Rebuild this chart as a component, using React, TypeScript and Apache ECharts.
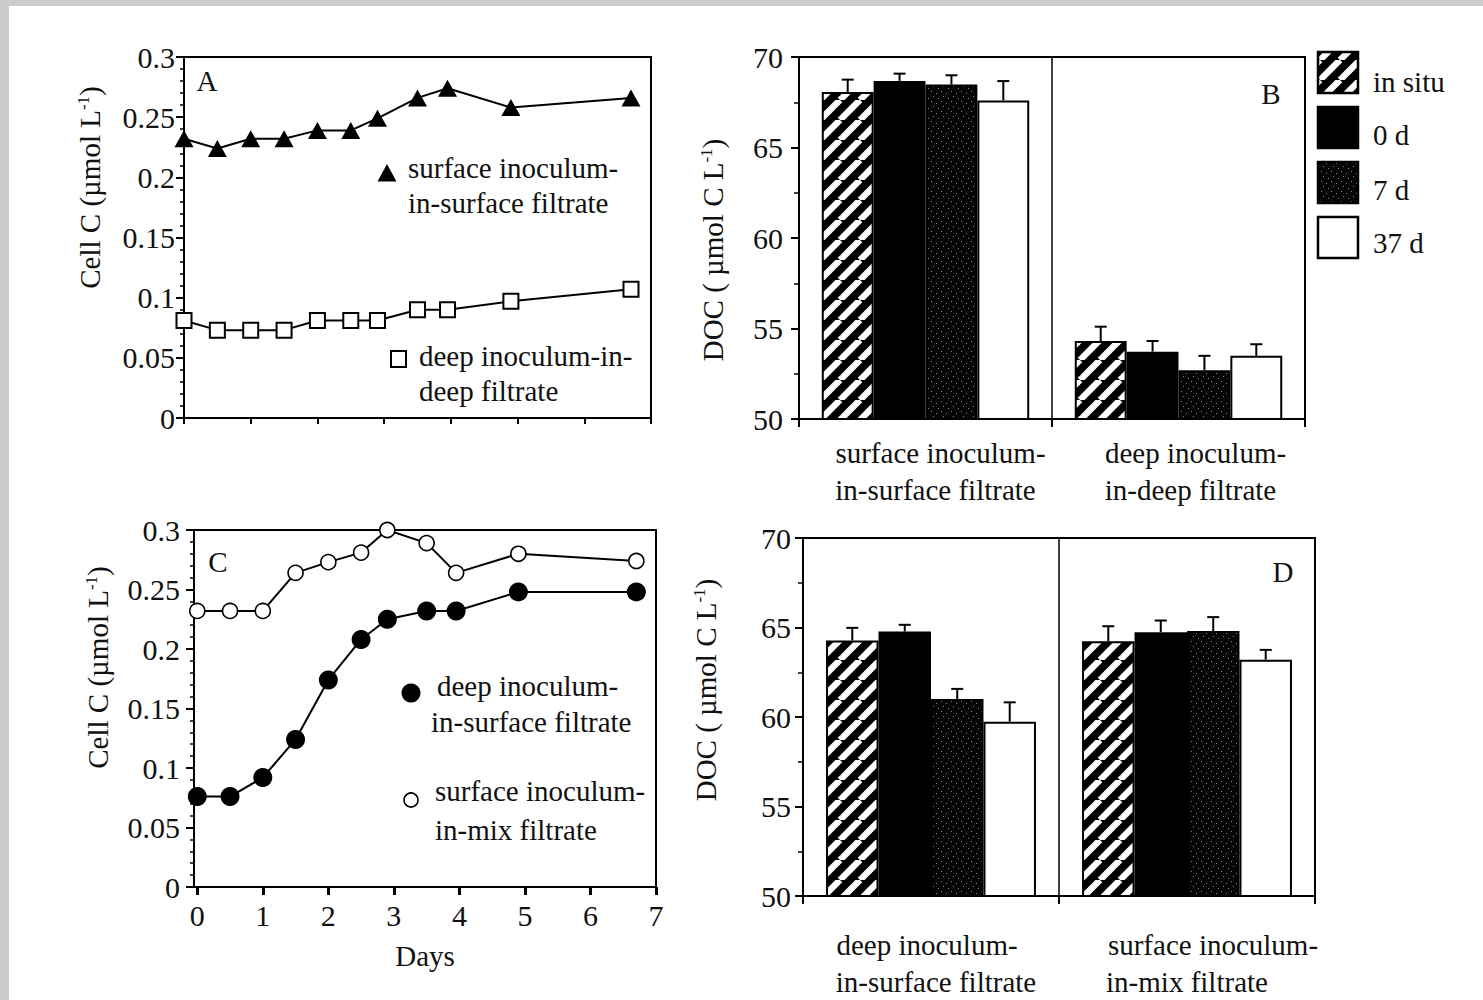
import React, { useEffect, useRef } from "react";
import * as echarts from "echarts";

// ---------- data ----------
const days = [0, 0.5, 1, 1.5, 2, 2.5, 2.9, 3.5, 3.95, 4.9, 6.7];
const dayTicks = [0, 1, 2, 3, 4, 5, 6, 7];

// Panel A
const aSurfaceInSurface = [0.232, 0.224, 0.232, 0.232, 0.239, 0.239, 0.249, 0.266, 0.274, 0.258, 0.266];
const aDeepInDeep = [0.081, 0.073, 0.073, 0.073, 0.081, 0.081, 0.081, 0.09, 0.09, 0.097, 0.107];
// Panel C
const cDeepInSurface = [0.076, 0.076, 0.092, 0.124, 0.174, 0.208, 0.225, 0.232, 0.232, 0.248, 0.248];
const cSurfaceInMix = [0.232, 0.232, 0.232, 0.264, 0.273, 0.281, 0.3, 0.289, 0.264, 0.28, 0.274];

// Panels B and D
const treatments = ["in situ", "0 d", "7 d", "37 d"];
const bCategories = ["surface inoculum-\nin-surface filtrate", "deep inoculum-\nin-deep filtrate"];
const bMeans = [
  [68.07, 54.31],
  [68.68, 53.72],
  [68.48, 52.7],
  [67.6, 53.49],
];
const bErrors = [
  [0.68, 0.79],
  [0.4, 0.59],
  [0.51, 0.79],
  [1.07, 0.64],
];
const dCategories = ["deep inoculum-\nin-surface filtrate", "surface inoculum-\nin-mix filtrate"];
const dMeans = [
  [64.27, 64.23],
  [64.78, 64.74],
  [61.0, 64.8],
  [59.74, 63.2],
];
const dErrors = [
  [0.71, 0.84],
  [0.37, 0.65],
  [0.57, 0.78],
  [1.08, 0.55],
];

// ---------- styling ----------
const FONT = '"Liberation Serif", "Times New Roman", Times, serif';
const INK = "#111";
const BAR_FRACTION = 0.205;

function makeHatch() {
  const T = 20;
  const c = document.createElement("canvas");
  c.width = T;
  c.height = T;
  const g = c.getContext("2d")!;
  g.fillStyle = "#000";
  g.fillRect(0, 0, T, T);
  g.strokeStyle = "#fff";
  g.lineWidth = 6.5;
  for (const o of [-T, 0, T]) {
    g.beginPath();
    g.moveTo(o, T);
    g.lineTo(o + T, 0);
    g.stroke();
  }
  return c;
}

function makeStipple() {
  const T = 10;
  const c = document.createElement("canvas");
  c.width = T;
  c.height = T;
  const g = c.getContext("2d")!;
  g.fillStyle = "#050505";
  g.fillRect(0, 0, T, T);
  g.fillStyle = "rgba(170,170,170,0.8)";
  const dots = [
    [1, 1],
    [6, 3],
    [3, 6],
    [8, 8],
  ];
  for (const [x, y] of dots) g.fillRect(x, y, 1, 1);
  return c;
}

const txt = { fontFamily: FONT, color: INK };

function cellAxis(gridIndex: number, margin: number, padLeft: number, nameGap: number) {
  return {
    type: "value",
    gridIndex,
    min: 0,
    max: 0.3,
    interval: 0.05,
    name: "Cell C (µmol L{sup|-1})",
    nameLocation: "middle",
    nameGap,
    nameRotate: 90,
    nameTextStyle: {
      ...txt,
      fontSize: 29,
      padding: [0, 0, 0, padLeft],
      rich: { sup: { ...txt, fontSize: 17, verticalAlign: "top" } },
    },
    axisLine: { show: true, onZero: false, lineStyle: { color: "#000", width: 2 } },
    axisTick: { show: true, length: 8, lineStyle: { color: "#000", width: 2 } },
    minorTick: { show: true, splitNumber: 5, length: 4, lineStyle: { color: "#000", width: 1.5 } },
    axisLabel: {
      ...txt,
      fontSize: 30,
      margin,
      formatter: (v: number) => String(Number(v.toFixed(2))),
    },
    splitLine: { show: false },
  };
}

function docAxis(gridIndex: number, margin: number, pad: number[], nameGap: number) {
  return {
    type: "value",
    gridIndex,
    min: 50,
    max: 70,
    interval: 5,
    name: "DOC ( µmol C L{sup|-1})",
    nameLocation: "middle",
    nameGap,
    nameRotate: 90,
    nameTextStyle: {
      ...txt,
      fontSize: 29,
      padding: pad,
      rich: { sup: { ...txt, fontSize: 17, verticalAlign: "top" } },
    },
    axisLine: { show: true, onZero: false, lineStyle: { color: "#000", width: 2 } },
    axisTick: { show: true, length: 8, lineStyle: { color: "#000", width: 2 } },
    minorTick: { show: true, splitNumber: 2, length: 5, lineStyle: { color: "#000", width: 1.5 } },
    axisLabel: { ...txt, fontSize: 30, margin },
    splitLine: { show: false },
  };
}

// pads[category][line] = [top, right, bottom, left]
function catAxis(gridIndex: number, data: string[], margin: number, pads: number[][][]) {
  const rich: any = {};
  pads.forEach((lines, i) =>
    lines.forEach((p, j) => {
      rich[`c${i}l${j}`] = { ...txt, fontSize: 29, lineHeight: 37, padding: p };
    })
  );
  return {
    type: "category",
    gridIndex,
    data,
    axisLine: { show: true, onZero: false, lineStyle: { color: "#000", width: 2 } },
    axisTick: { show: true, length: 8, lineStyle: { color: "#000", width: 2 } },
    splitLine: { show: true, interval: 0, lineStyle: { color: "#000", width: 1.5 } },
    axisLabel: {
      interval: 0,
      margin,
      ...txt,
      fontSize: 29,
      lineHeight: 37,
      formatter: (v: string, i: number) =>
        v
          .split("\n")
          .map((l, j) => `{c${i}l${j}|${l}}`)
          .join("\n"),
      rich,
    },
  };
}

function lineSeries(idx: number, name: string, ys: number[], symbol: string, size: any, filled: boolean, bw: number) {
  return {
    type: "line",
    name,
    xAxisIndex: idx,
    yAxisIndex: idx,
    data: days.map((d, i) => [d, ys[i]]),
    symbol,
    symbolSize: size,
    showSymbol: true,
    clip: false,
    lineStyle: { color: "#000", width: 2 },
    itemStyle: filled
      ? { color: "#000", borderColor: "#000", borderWidth: 0 }
      : { color: "#fff", borderColor: "#000", borderWidth: bw },
    z: 3,
  };
}

function barSeries(idx: number, means: number[][], fills: any[]) {
  return treatments.map((t, k) => ({
    type: "bar",
    name: t,
    xAxisIndex: idx,
    yAxisIndex: idx,
    data: means[k],
    barWidth: `${BAR_FRACTION * 100}%`,
    barGap: "0%",
    itemStyle: { color: fills[k], borderColor: "#000", borderWidth: 2 },
    z: 2,
  }));
}

function errorSeries(idx: number, means: number[][], errs: number[][]) {
  const data: number[][] = [];
  means.forEach((row, t) => row.forEach((m, c) => data.push([c, t, m, errs[t][c]])));
  return {
    type: "custom",
    xAxisIndex: idx,
    yAxisIndex: idx,
    silent: true,
    z: 5,
    encode: { x: 0, y: 2 },
    data,
    renderItem: (_params: any, api: any) => {
      const c = api.value(0);
      const t = api.value(1);
      const m = api.value(2);
      const e = api.value(3);
      const base = api.coord([c, m]);
      const top = api.coord([c, m + e]);
      const band = api.size([1, 0])[0];
      const x = base[0] + (t - 1.5) * band * BAR_FRACTION;
      return {
        type: "group",
        children: [
          { type: "line", shape: { x1: x, y1: base[1], x2: x, y2: top[1] }, style: { stroke: "#000", lineWidth: 2 } },
          { type: "line", shape: { x1: x - 6, y1: top[1], x2: x + 6, y2: top[1] }, style: { stroke: "#000", lineWidth: 2 } },
        ],
      };
    },
  };
}

function label(text: string, x: number, y: number, align = "left") {
  return {
    type: "text",
    x,
    y,
    z: 10,
    style: { text, fill: INK, fontFamily: FONT, fontSize: 29, align, verticalAlign: "middle" },
  };
}

export default function App() {
  const ref = useRef<HTMLDivElement>(null);

  useEffect(() => {
    if (!ref.current) return;
    const chart = echarts.init(ref.current, undefined, { renderer: "svg" });
    const hatch = { image: makeHatch(), repeat: "repeat" };
    const stipple = { image: makeStipple(), repeat: "repeat" };
    const fills = [hatch, "#000", stipple, "#fff"];

    const gridBase = { show: true, borderColor: "#000", borderWidth: 2, backgroundColor: "transparent", containLabel: false, outerBoundsMode: "none" };

    const legendY = [52, 107, 162, 217];
    const legendTextY = [82, 135, 190, 243];

    const option: any = {
      animation: false,
      backgroundColor: "transparent",
      textStyle: { fontFamily: FONT, color: INK },
      grid: [
        { ...gridBase, left: 184, top: 57, width: 467, height: 361 },
        { ...gridBase, left: 194, top: 530, width: 462, height: 357 },
        { ...gridBase, left: 799, top: 57, width: 506, height: 362 },
        { ...gridBase, left: 803, top: 538, width: 512, height: 358 },
      ],
      xAxis: [
        {
          type: "value",
          gridIndex: 0,
          min: 0,
          max: 7,
          interval: 1,
          axisLine: { show: true, onZero: false, lineStyle: { color: "#000", width: 2 } },
          axisTick: { show: true, length: 6, lineStyle: { color: "#000", width: 2 } },
          axisLabel: { show: false },
          splitLine: { show: false },
        },
        {
          type: "value",
          gridIndex: 1,
          min: -0.05,
          max: 7,
          name: "Days",
          nameLocation: "middle",
          nameGap: 54,
          nameTextStyle: { ...txt, fontSize: 29 },
          axisLine: { show: true, onZero: false, lineStyle: { color: "#000", width: 2 } },
          axisTick: { show: true, length: 8, customValues: dayTicks, lineStyle: { color: "#000", width: 3 } },
          axisLabel: { ...txt, fontSize: 30, margin: 13, customValues: dayTicks },
          splitLine: { show: false },
        },
        catAxis(2, bCategories, 15, [
          [
            [0, 0, 0, 30],
            [0, 0, 0, 20],
          ],
          [
            [0, 0, 0, 34],
            [0, 0, 0, 24],
          ],
        ]),
        catAxis(3, dCategories, 30, [
          [
            [0, 8, 0, 0],
            [0, 0, 0, 10],
          ],
          [
            [0, 0, 0, 52],
            [0, 0, 0, 0],
          ],
        ]),
      ],
      yAxis: [
        cellAxis(0, 9, 100, 80),
        cellAxis(1, 14, 82, 82),
        docAxis(2, 16, [0, 24, 0, 0], 72),
        docAxis(3, 12, [0, 0, 0, 54], 83),
      ],
      series: [
        lineSeries(0, "surface inoculum-in-surface filtrate", aSurfaceInSurface, "triangle", [19, 17], true, 0),
        lineSeries(0, "deep inoculum-in-deep filtrate", aDeepInDeep, "rect", 15, false, 2),
        lineSeries(1, "surface inoculum-in-mix filtrate", cSurfaceInMix, "circle", 15, false, 1.6),
        lineSeries(1, "deep inoculum-in-surface filtrate", cDeepInSurface, "circle", 19, true, 0),
        ...barSeries(2, bMeans, fills),
        errorSeries(2, bMeans, bErrors),
        ...barSeries(3, dMeans, fills),
        errorSeries(3, dMeans, dErrors),
      ],
      graphic: [
        // panel letters
        label("A", 207, 81, "center"),
        label("B", 1271, 94, "center"),
        label("C", 218, 562, "center"),
        label("D", 1283, 572, "center"),
        // panel A key
        {
          type: "polygon",
          z: 10,
          shape: { points: [[377.5, 181.5], [396.5, 181.5], [387, 164]] },
          style: { fill: "#000" },
        },
        label("surface inoculum-", 408, 168),
        label("in-surface filtrate", 408, 203),
        { type: "rect", z: 10, shape: { x: 391, y: 351, width: 15, height: 16 }, style: { fill: "#fff", stroke: "#000", lineWidth: 2 } },
        label("deep inoculum-in-", 419, 356),
        label("deep filtrate", 419, 391),
        // panel C key
        { type: "circle", z: 10, shape: { cx: 411, cy: 693, r: 9.5 }, style: { fill: "#000" } },
        label("deep inoculum-", 437, 686),
        label("in-surface filtrate", 431, 722),
        { type: "circle", z: 10, shape: { cx: 411, cy: 800, r: 7 }, style: { fill: "#fff", stroke: "#000", lineWidth: 1.6 } },
        label("surface inoculum-", 435, 791),
        label("in-mix filtrate", 435, 830),
        // bar legend
        ...treatments.map((t, k) => ({
          type: "rect",
          z: 10,
          shape: { x: 1318, y: legendY[k], width: 40, height: 41 },
          style: { fill: fills[k], stroke: "#000", lineWidth: 2.5 },
        })),
        ...treatments.map((t, k) => label(t, 1373, legendTextY[k])),
      ],
    };

    chart.setOption(option);
    return () => chart.dispose();
  }, []);

  return (
    <div style={{ position: "fixed", left: 0, top: 0, width: 1483, height: 1000, background: "#cccccc", overflow: "hidden" }}>
      <div style={{ position: "absolute", left: 9, top: 6, width: 1474, height: 994, background: "#ffffff" }} />
      <div ref={ref} style={{ position: "absolute", left: 0, top: 0, width: 1483, height: 1000 }} />
    </div>
  );
}
